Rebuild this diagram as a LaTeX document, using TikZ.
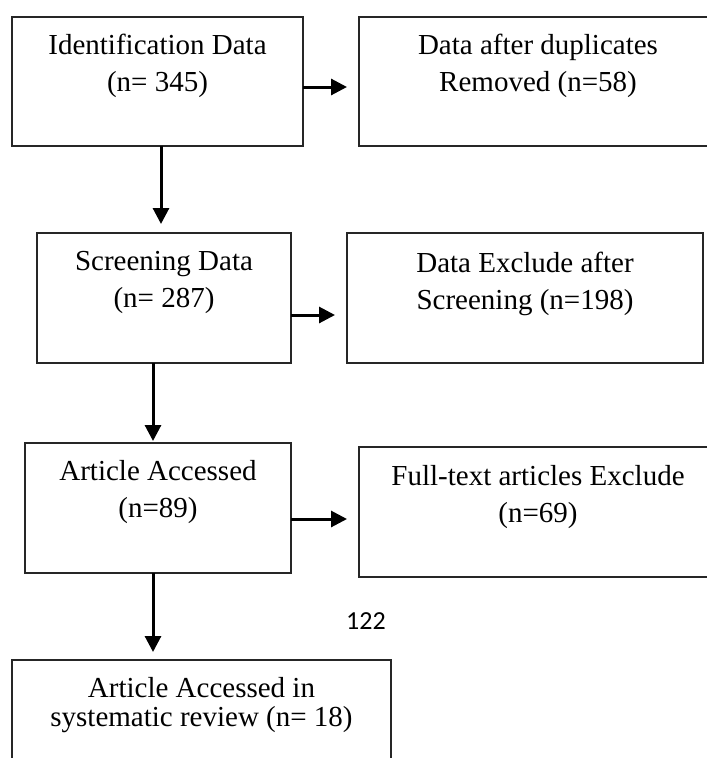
\documentclass[tikz,border=0pt]{standalone}
\usepackage{fontspec}
\setmainfont{Liberation Serif}
\newfontfamily\calib{Carlito}
\usetikzlibrary{arrows.meta}
\begin{document}
\begin{tikzpicture}[x=1pt,y=-1pt,
  box/.style={draw=black!85,line width=1.2pt,minimum width=#1,inner sep=0pt,outer sep=0pt},
  txt/.style={anchor=north,inner sep=0pt,align=center,font=\fontsize{29}{37}\selectfont},
  arr/.style={line width=3pt,-{Triangle[length=16pt,width=16pt]}}]
\useasboundingbox (0,0) rectangle (707,758);
\clip (0,0) rectangle (707,758);
\fill[white] (0,0) rectangle (707,758);
% boxes
\node[box=291pt,minimum height=129pt] (b1) at (157.5,81.5) {};
\node[box=358pt,minimum height=129pt] (b2) at (538,81.5) {};
\node[box=254pt,minimum height=130pt] (b3) at (164,298) {};
\node[box=356pt,minimum height=130pt] (b4) at (525,298) {};
\node[box=266pt,minimum height=130pt] (b5) at (158,508) {};
\node[box=358pt,minimum height=130pt] (b6) at (538,512) {};
\node[box=379pt,minimum height=140pt] (b7) at (201.5,730) {};
% texts
\node[txt] (t1) at (157.5,34) {Identification Data\\(n= 345)};
\node[txt] (t2) at (538,34) {Data after duplicates\\Removed (n=58)};
\node[txt] (t3) at (164,251) {Screening Data\\(n= 287)};
\node[txt] (t4) at (525,252) {Data Exclude after\\Screening (n=198)};
\node[txt] (t5) at (158,460) {Article Accessed\\(n=89)};
\node[txt] (t6) at (538,465) {Full-text articles Exclude\\(n=69)};
\node[txt,font=\fontsize{29}{29}\selectfont] (t7) at (201.5,677) {Article Accessed in\\systematic review (n= 18)};
\node[anchor=base,inner sep=0pt,font=\calib\fontsize{26}{30}\selectfont] (pg) at (366,629) {122};
% connectors
\draw[arr,shorten >=12pt] ([yshift=-5.5pt]b1.east) -- ([yshift=-5.5pt]b1.east -| b2.west);
\draw[arr,shorten >=12pt] ([yshift=-17pt]b3.east) -- ([yshift=-17pt]b3.east -| b4.west);
\draw[arr,shorten >=12pt] ([yshift=-11pt]b5.east) -- ([yshift=-11pt]b5.east -| b6.west);
\draw[arr,shorten >=9pt] ([xshift=3.5pt]b1.south) -- ([xshift=3.5pt]b1.south |- b3.north);
\draw[arr,shorten >=2pt] ([xshift=-11pt]b3.south) -- ([xshift=-11pt]b3.south |- b5.north);
\draw[arr,shorten >=8pt] ([xshift=-5pt]b5.south) -- ([xshift=-5pt]b5.south |- b7.north);
\end{tikzpicture}
\end{document}
